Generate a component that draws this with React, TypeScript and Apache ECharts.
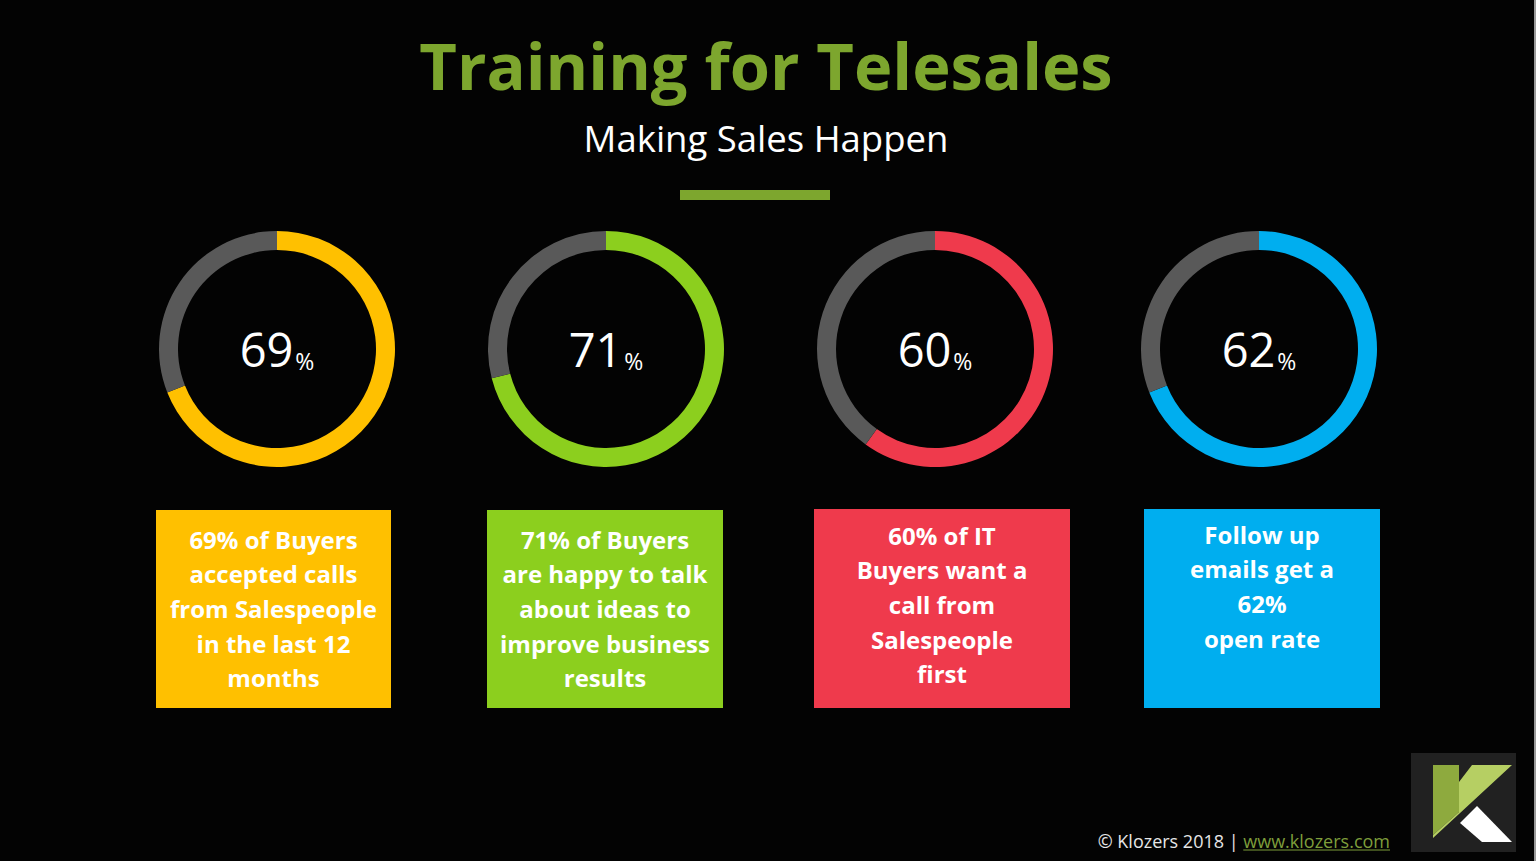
import React, { useEffect, useRef } from "react";
import * as echarts from "echarts";

// ---- data ----
const categories = [
  "Buyers accepted calls",
  "Buyers happy to talk",
  "IT buyers want a call first",
  "Follow-up email open rate",
];
// percentages printed in the centre of each ring
const labelValues = [69, 71, 60, 62];
// share of each ring drawn in colour
const ringFill = [69, 71, 60, 69];
const boxLines = [
  ["69% of Buyers", "accepted calls", "from Salespeople", "in the last 12", "months"],
  ["71% of Buyers", "are happy to talk", "about ideas to", "improve business", "results"],
  ["60% of IT", "Buyers want a", "call from", "Salespeople", "first"],
  ["Follow up", "emails get a", "62%", "open rate"],
];
const titleText = "Training for Telesales";
const subtitleText = "Making Sales Happen";
const footerText = "© Klozers 2018 | ";
const footerLink = "www.klozers.com";

// ---- layout / style ----
const palette = ["#FFC000", "#8CCF1E", "#EF3A4C", "#00AEEF"];
const restColor = "#595959";
const brandGreen = "#7DA62E";
const ringCenters = [
  [277, 349],
  [606, 349],
  [935, 349],
  [1259, 349],
];
const boxRects = [
  [156, 510, 235, 198],
  [487, 510, 236, 198],
  [814, 509, 256, 199],
  [1144, 509, 236, 199],
];
const boxTextTop = [522, 522, 518, 517];
const FONT = "'Open Sans', 'Noto Sans', sans-serif";

function measure(text: string, font: string): number {
  const c = document.createElement("canvas").getContext("2d");
  if (!c) return text.length * 9;
  c.font = font;
  return c.measureText(text).width;
}

export default function App() {
  const ref = useRef<HTMLDivElement>(null);

  useEffect(() => {
    if (!ref.current) return;
    const chart = echarts.init(ref.current, undefined, { renderer: "svg" });

    const series = ringFill.map((v, i) => ({
      type: "pie",
      name: categories[i],
      center: ringCenters[i],
      radius: [99, 118],
      startAngle: 90,
      clockwise: true,
      silent: true,
      avoidLabelOverlap: false,
      labelLine: { show: false },
      itemStyle: { borderWidth: 0 },
      data: [
        {
          value: v,
          name: categories[i],
          itemStyle: { color: palette[i] },
          label: {
            show: true,
            position: "center",
            formatter: () => `{n|${labelValues[i]}}{p|%}`,
            rich: {
              n: {
                fontSize: 47,
                color: "#ffffff",
                fontFamily: FONT,
                lineHeight: 46,
                verticalAlign: "bottom",
              },
              p: {
                fontSize: 23,
                color: "#ffffff",
                fontFamily: FONT,
                lineHeight: 20,
                verticalAlign: "bottom",
                padding: [0, 0, 0, 2],
              },
            },
          },
        },
        {
          value: 100 - v,
          name: "rest",
          itemStyle: { color: restColor },
          label: { show: false },
        },
      ],
    }));

    const footFont = `18px 'Open Sans'`;
    const linkW = measure(footerLink, footFont);
    const footRight = 1390;

    const graphics: any[] = [
      {
        type: "text",
        x: 766,
        y: 65,
        style: {
          text: titleText,
          fill: brandGreen,
          font: `bold 65px ${FONT}`,
          align: "center",
          verticalAlign: "middle",
        },
      },
      {
        type: "text",
        x: 766,
        y: 138,
        style: {
          text: subtitleText,
          fill: "#ffffff",
          font: `36.5px ${FONT}`,
          align: "center",
          verticalAlign: "middle",
        },
      },
      {
        type: "rect",
        shape: { x: 680, y: 190, width: 150, height: 10 },
        style: { fill: brandGreen },
      },
    ];

    boxRects.forEach((r, i) => {
      graphics.push({
        type: "rect",
        shape: { x: r[0], y: r[1], width: r[2], height: r[3] },
        style: { fill: palette[i] },
      });
      graphics.push({
        type: "text",
        x: r[0] + r[2] / 2,
        y: boxTextTop[i],
        style: {
          text: boxLines[i].join("\n"),
          fill: "#ffffff",
          font: `bold 24px ${FONT}`,
          lineHeight: 34.6,
          align: "center",
          verticalAlign: "top",
        },
      });
    });

    // footer
    graphics.push({
      type: "text",
      x: footRight - linkW,
      y: 841,
      style: {
        text: footerText,
        fill: "#e6e6e6",
        font: `18px ${FONT}`,
        align: "right",
        verticalAlign: "middle",
      },
    });
    graphics.push({
      type: "text",
      x: footRight,
      y: 841,
      style: {
        text: footerLink,
        fill: "#7E9E3B",
        font: `18px ${FONT}`,
        align: "right",
        verticalAlign: "middle",
      },
    });
    graphics.push({
      type: "line",
      shape: { x1: footRight - linkW, y1: 850, x2: footRight, y2: 850 },
      style: { stroke: "#7E9E3B", lineWidth: 1 },
    });

    // logo
    graphics.push({
      type: "rect",
      shape: { x: 1411, y: 753, width: 105, height: 99 },
      style: { fill: "#212121" },
    });
    graphics.push({
      type: "polygon",
      shape: {
        points: [
          [1433, 765],
          [1459, 765],
          [1459, 812],
          [1433, 835],
        ],
      },
      style: { fill: "#8EAA3E" },
    });
    graphics.push({
      type: "polygon",
      shape: {
        points: [
          [1472, 765],
          [1512, 765],
          [1433, 838],
          [1433, 835],
          [1459, 812],
          [1459, 782],
        ],
      },
      style: { fill: "#B6CF63" },
    });
    graphics.push({
      type: "polygon",
      shape: {
        points: [
          [1477, 806],
          [1512, 842],
          [1482, 842],
          [1460, 823],
        ],
      },
      style: { fill: "#ffffff" },
    });
    // right edge line
    graphics.push({
      type: "rect",
      shape: { x: 1534, y: 0, width: 2, height: 861 },
      style: { fill: "#9a9a9a" },
    });

    chart.setOption({
      animation: false,
      backgroundColor: "#030303",
      series,
      graphic: { elements: graphics },
    });

    return () => chart.dispose();
  }, []);

  return (
    <div
      ref={ref}
      style={{ position: "fixed", left: 0, top: 0, width: 1536, height: 861 }}
    />
  );
}
